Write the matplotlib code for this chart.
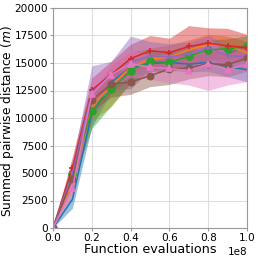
import numpy as np
import matplotlib
matplotlib.use("Agg")
import matplotlib.pyplot as plt

# function evaluations (x 1e8)
evals = [0.0, 0.1, 0.2, 0.3, 0.4, 0.5, 0.6, 0.7, 0.8, 0.9, 1.0]

# mean summed pairwise distance per run configuration
blue_mean = [0, 2600, 10400, 13250, 14600, 14950, 15050, 14900, 15050, 14650, 14400]
orange_mean = [0, 4200, 11000, 12950, 14600, 15350, 15550, 16200, 16700, 16550, 15950]
green_mean = [0, 4900, 10650, 12600, 14300, 15150, 15050, 15600, 16200, 16300, 16500]
red_mean = [0, 5500, 12550, 13950, 15400, 16100, 15950, 16500, 16800, 16550, 16400]
purple_mean = [0, 5000, 12350, 13850, 15050, 15650, 15550, 15800, 16400, 15650, 15600]
brown_mean = [0, 4500, 11600, 13100, 13250, 13850, 14450, 14550, 14950, 14850, 15450]
pink_mean = [0, 3600, 12150, 13950, 14950, 14600, 14500, 14300, 14900, 14400, 14900]

# spread (one std) around each mean
blue_std = [0, 800, 1200, 900, 800, 700, 700, 700, 800, 900, 1100]
orange_std = [0, 900, 1300, 1900, 1400, 1000, 1100, 900, 900, 900, 1000]
green_std = [0, 900, 1600, 1500, 1100, 900, 900, 900, 900, 900, 1000]
red_std = [0, 1000, 1100, 1200, 1300, 1400, 1300, 1900, 1400, 1600, 1200]
purple_std = [0, 1000, 2400, 1300, 2400, 1300, 1200, 1100, 1100, 1000, 1000]
brown_std = [0, 900, 1000, 1200, 1100, 1000, 1400, 1000, 1100, 1100, 1200]
pink_std = [0, 900, 1300, 1200, 1200, 1100, 1300, 1300, 2400, 1400, 1600]

series = [
    (blue_mean, blue_std, "tab:blue", None, 0),
    (orange_mean, orange_std, "tab:orange", None, 0),
    (green_mean, green_std, "tab:green", "o", 5),
    (red_mean, red_std, "tab:red", "+", 5),
    (purple_mean, purple_std, "tab:purple", "+", 3),
    (brown_mean, brown_std, "tab:brown", "o", 4.5),
    (pink_mean, pink_std, "tab:pink", "^", 4),
]

fig = plt.figure(figsize=(2.58, 2.58), dpi=100)
ax = fig.add_axes([53 / 258, 30 / 258, 194 / 258, 220 / 258])

x = np.array(evals) * 1e8
for mean, std, color, marker, ms in series:
    mean = np.array(mean)
    std = np.array(std)
    ax.fill_between(x, mean - std, mean + std, color=color, alpha=0.45, linewidth=0)
    ax.plot(x, mean, color=color, marker=marker, markersize=ms, linewidth=1.1,
            markeredgewidth=1.2)

ax.set_xlim(0, 1e8)
ax.set_ylim(0, 20000)
ax.set_yticks(np.arange(0, 20001, 2500))
ax.set_xticks(np.arange(0, 1.01e8, 0.2e8))
ax.grid(True, color="#dddddd", linewidth=0.8)
ax.set_axisbelow(True)
for s in ax.spines.values():
    s.set_color("#999999")
ax.tick_params(labelsize=7.6, length=2, color="#999999", pad=1.5)
ax.xaxis.get_offset_text().set_fontsize(7.5)
ax.set_xlabel("Function evaluations", fontsize=9.2, labelpad=0)
ax.set_ylabel("Summed pairwise distance ($m$)", fontsize=8.8)
ax.yaxis.set_label_coords(-0.19, 0.485)

fig.savefig("out.png", dpi=100)
